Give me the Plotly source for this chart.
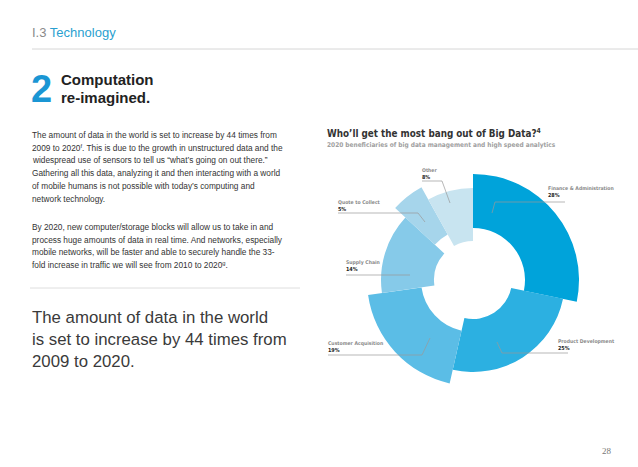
import plotly.graph_objects as go

W, H = 638, 467

# ---- data ----
categories = ["Finance & Administration", "Product Development", "Customer Acquisition",
              "Supply Chain", "Quote to Collect", "Other"]
shares = [28, 25, 19, 14, 5, 8]
share_labels = ["28%", "25%", "19%", "14%", "5%", "8%"]

paragraph1 = [
    "The amount of data in the world is set to increase by 44 times from",
    "2009 to 2020<sup>f</sup>. This is due to the growth in unstructured data and the",
    "widespread use of sensors to tell us \u201cwhat\u2019s going on out there.\u201d",
    "Gathering all this data, analyzing it and then interacting with a world",
    "of mobile humans is not possible with today\u2019s computing and",
    "network technology.",
]
paragraph2 = [
    "By 2020, new computer/storage blocks will allow us to take in and",
    "process huge amounts of data in real time. And networks, especially",
    "mobile networks, will be faster and able to securely handle the 33-",
    "fold increase in traffic we will see from 2010 to 2020<sup>g</sup>.",
]
quote_lines = [
    "The amount of data in the world",
    "is set to increase by 44 times from",
    "2009 to 2020.",
]

# ---- styles ----
colors = ["#00a3da", "#2cb0e1", "#5bbde6", "#86cae9", "#a6d5eb", "#c8e4f0"]
total = sum(shares)
widths = [s / total * 360 for s in shares]
thetas = []
acc = 0
for w in widths:
    thetas.append(acc + w / 2)
    acc += w
bases = [52 if i % 2 == 0 else 39 for i in range(len(shares))]
thick = [54 if i % 2 == 0 else 53 for i in range(len(shares))]


def px(x, y):
    return x / W, 1 - y / H


fig = go.Figure()
fig.add_trace(go.Barpolar(
    theta=thetas, width=widths, r=thick, base=bases,
    marker=dict(color=colors, line=dict(width=0)),
    text=categories, hoverinfo="text", showlegend=False,
))

cx, cy, R = 473, 280, 110
fig.update_layout(
    width=W, height=H, margin=dict(l=0, r=0, t=0, b=0),
    paper_bgcolor="white", plot_bgcolor="white",
    polar=dict(
        domain=dict(x=[(cx - R) / W, (cx + R) / W], y=[1 - (cy + R) / H, 1 - (cy - R) / H]),
        bgcolor="white",
        radialaxis=dict(visible=False, range=[0, R]),
        angularaxis=dict(visible=False, rotation=90, direction="clockwise", thetaunit="degrees"),
        bargap=0,
    ),
)

ann = []
shapes = []


def text(x, y, s, size, color, family="Liberation Sans, Arial, sans-serif", yanchor="middle"):
    xx, yy = px(x, y)
    f = dict(size=size, color=color, family=family)
    ann.append(dict(x=xx, y=yy, xref="paper", yref="paper", text=s, showarrow=False,
                    xanchor="left", yanchor=yanchor, align="left", font=f))


def line(x0, y0, x1, y1, color="#c8c8c8", width=1):
    a, b = px(x0, y0)
    c, d = px(x1, y1)
    shapes.append(dict(type="line", xref="paper", yref="paper", x0=a, y0=b, x1=c, y1=d,
                       line=dict(color=color, width=width)))


# header
text(30, 33, "<span style='color:#8a8a8a'>I.3</span> <span style='color:#2a9fd0'>Technology</span>", 13, "#2a9fd0")
line(32, 49, 638, 49, "#d6d6d6", 1)
text(29, 89, "<b>2</b>", 38, "#1a96d4")
text(59, 80, "<b>Computation</b>", 15, "#222222")
text(59, 97, "<b>re-imagined.</b>", 15, "#222222")

# paragraphs
for i, s in enumerate(paragraph1):
    text(30, 135 + i * 12.7, s, 8.3, "#333333")
for i, s in enumerate(paragraph2):
    text(30, 227 + i * 12.7, s, 8.3, "#333333")
line(30, 288, 300, 288, "#dedede", 1)

for i, s in enumerate(quote_lines):
    text(30, 317 + i * 22, s, 16.8, "#3a3a3a")

text(600, 451, "28", 9, "#777777", family="Liberation Serif, serif")

# chart titles
cond = "Liberation Sans Narrow, DejaVu Sans Condensed, Roboto, sans-serif"
text(325, 133, "<b>Who\u2019ll get the most bang out of Big Data?<sup>4</sup></b>", 9.8, "#333333", family=cond)
text(325, 145, "<b>2020 beneficiaries of big data management and high speed analytics</b>", 6.5, "#a0a0a0", family=cond)

# labels: (x, y) of label name line
label_pos = {
    "Finance & Administration": (546, 188),
    "Product Development": (556, 341),
    "Customer Acquisition": (326, 343),
    "Supply Chain": (344, 262),
    "Quote to Collect": (336, 202),
    "Other": (420, 170),
}
for cat, sl in zip(categories, share_labels):
    x, y = label_pos[cat]
    text(x, y, "<b>" + cat + "</b>", 5.1, "#8a8a8a", family=cond)
    text(x, y + 7, "<b>" + sl + "</b>", 5.4, "#222222", family=cond)

# leader lines
lc = "#9a9a9a"
line(422, 181, 442, 181, lc, 0.7); line(442, 181, 450, 203, lc, 0.7)
line(338, 213, 418, 213, lc, 0.7); line(418, 213, 425, 222, lc, 0.7)
line(565, 202, 495, 202, lc, 0.7); line(495, 202, 492, 213, lc, 0.7)
line(346, 275, 410, 275, lc, 0.7)
line(328, 355, 422, 355, lc, 0.7); line(422, 355, 430, 338, lc, 0.7)
line(568, 353, 502, 353, lc, 0.7); line(502, 353, 497, 342, lc, 0.7)

fig.update_layout(annotations=ann, shapes=shapes)
fig.write_html("out.html", config={"displayModeBar": False},
               post_script="document.body.style.margin='0';")
